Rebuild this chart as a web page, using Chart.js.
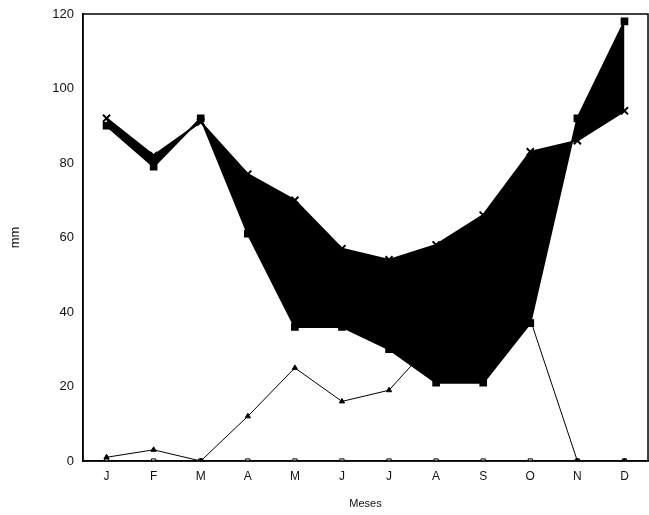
<!DOCTYPE html>
<html>
<head>
<meta charset="utf-8">
<script src="https://cdn.jsdelivr.net/npm/chart.js@4/dist/chart.umd.min.js"></script>
<style>
  body { margin: 0; background: #fff; }
  #wrap { width: 649px; height: 515px; }
</style>
</head>
<body>
<div id="wrap"><canvas id="chart"></canvas></div>
<script>
var months = ["J", "F", "M", "A", "M", "J", "J", "A", "S", "O", "N", "D"];
var precip = [90, 79, 92, 61, 36, 36, 30, 21, 21, 37, 92, 118];
var etp = [92, 82, 91, 77, 70, 57, 54, 58, 66, 83, 86, 94];
var deficit = [1, 3, 0, 12, 25, 16, 19, 33, 40, 38, 0, 0];
var excess = [0, 0, 0, 0, 0, 0, 0, 0, 0, 0, 0, 0];

// box round the plot area
var frame = {
  id: "frame",
  afterDraw: function (chart) {
    var a = chart.chartArea, ctx = chart.ctx;
    ctx.save();
    ctx.strokeStyle = "#000";
    ctx.lineWidth = 1.5;
    ctx.strokeRect(a.left, a.top, a.right - a.left, a.bottom - a.top);
    ctx.restore();
  }
};

document.addEventListener("DOMContentLoaded", function () {
  new Chart(document.getElementById("chart"), {
    type: "line",
    data: {
      labels: months,
      datasets: [
        {
          label: "P",
          data: precip,
          borderColor: "#000",
          backgroundColor: "#000",
          borderWidth: 2,
          pointStyle: "rect",
          pointRadius: 4,
          fill: "+1",
          tension: 0,
        },
        {
          label: "ETP",
          data: etp,
          borderColor: "#000",
          backgroundColor: "#000",
          borderWidth: 2,
          pointStyle: "crossRot",
          pointRadius: 5,
          pointBorderWidth: 2,
          fill: false,
          tension: 0,
        },
        {
          label: "Deficit",
          data: deficit,
          borderColor: "#000",
          backgroundColor: "#000",
          borderWidth: 1,
          pointStyle: "triangle",
          pointRadius: 3,
          fill: false,
          tension: 0,
        },
        {
          label: "Excedente",
          data: excess,
          borderColor: "#000",
          backgroundColor: "#fff",
          borderWidth: 1.5,
          pointStyle: "rect",
          pointRadius: 3,
          pointBorderWidth: 1,
          fill: false,
          tension: 0,
        },
      ],
    },
    options: {
      responsive: true,
      maintainAspectRatio: false,
      animation: false,
      layout: { autoPadding: false, padding: { top: 14, right: 1, left: 0, bottom: 0 } },
      plugins: {
        legend: { display: false },
        tooltip: { enabled: false },
      },
      scales: {
        x: {
          offset: true,
          grid: { display: false, drawTicks: false },
          border: { color: "#000", width: 1.5 },
          ticks: { color: "#111", font: { family: "Liberation Sans", size: 12 }, padding: 8 },
          title: {
            display: true,
            text: "Meses",
            color: "#111",
            font: { family: "Liberation Sans", size: 11 },
            padding: { top: 6 },
          },
          afterFit: function (s) { s.height = 54; },
        },
        y: {
          min: 0,
          max: 120,
          ticks: { stepSize: 20, color: "#111", font: { family: "Liberation Sans", size: 13 }, padding: 3 },
          grid: { display: false, drawOnChartArea: false, drawTicks: true, tickLength: 6, color: "#000", tickWidth: 1.5 },
          border: { color: "#000", width: 1.5 },
          title: {
            display: true,
            text: "mm",
            color: "#111",
            font: { family: "Liberation Sans", size: 13 },
            padding: { top: 8, bottom: 4 },
          },
          afterFit: function (s) { s.width = 83; },
        },
      },
    },
    plugins: [frame],
  });
});
</script>
</body>
</html>
